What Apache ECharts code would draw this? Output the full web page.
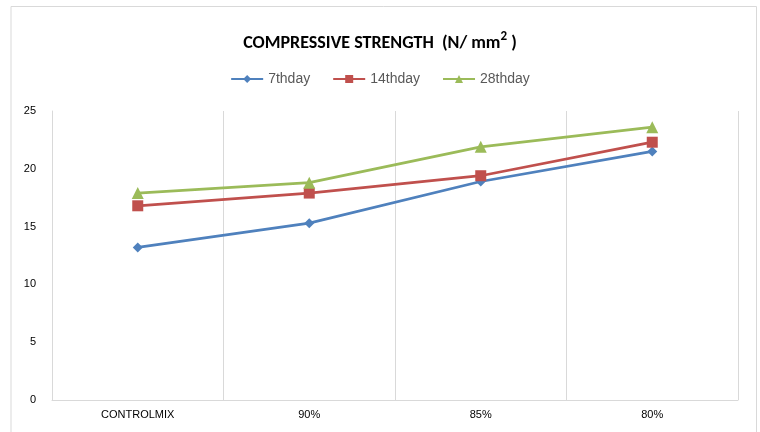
<!DOCTYPE html>
<html><head><meta charset="utf-8">
<script src="https://cdn.jsdelivr.net/npm/echarts@6/dist/echarts.min.js"></script>
<style>html,body{margin:0;padding:0;background:#fff}#c{width:760px;height:432px}</style>
</head><body><div id="c"></div>
<script>
const categories = ['CONTROLMIX', '90%', '85%', '80%'];
const day7 = [13.2, 15.3, 18.9, 21.5];
const day14 = [16.8, 17.9, 19.4, 22.3];
const day28 = [17.9, 18.8, 21.9, 23.6];
const seriesNames = ['7thday', '14thday', '28thday'];
const yTicks = {min: 0, max: 25, interval: 5};

const chart = echarts.init(document.getElementById('c'), null, {renderer: 'canvas'});
const font = 'Liberation Sans, Arial, sans-serif';
chart.setOption({
  animation: false,
  backgroundColor: '#fff',
  title: {
    text: '{t|COMPRESSIVE STRENGTH  (N/ mm}{s|2}{t| )}',
    left: 'center', top: 25,
    textStyle: {
      rich: {
        t: {fontFamily: 'Carlito, Liberation Sans Narrow, Arial', fontWeight: 'bold', fontSize: 18, color: '#000', verticalAlign: 'bottom', lineHeight: 22},
        s: {fontFamily: 'Carlito, Liberation Sans Narrow, Arial', fontWeight: 'bold', fontSize: 13, color: '#000', verticalAlign: 'top', padding: [0, 0, 10, 0], lineHeight: 22}
      }
    }
  },
  legend: {
    top: 67, left: 'center',
    itemWidth: 32, itemHeight: 10, itemGap: 22,
    textStyle: {fontFamily: font, fontSize: 14, color: '#595959'},
    data: seriesNames
  },
  graphic: [{
    type: 'polyline', silent: true,
    shape: {points: [[11, 432], [11, 6.5], [756.5, 6.5], [756.5, 432]]},
    style: {stroke: '#d9d9d9', lineWidth: 1, fill: null}
  }],
  grid: {left: 52, right: 22, top: 111, bottom: 32, containLabel: false},
  xAxis: {
    type: 'category', data: categories, boundaryGap: true,
    axisLine: {show: true, lineStyle: {color: '#d9d9d9', width: 1}},
    axisTick: {show: false},
    axisLabel: {fontFamily: font, fontSize: 11, color: '#000', margin: 9},
    splitLine: {show: true, lineStyle: {color: '#d9d9d9', width: 1}}
  },
  yAxis: {
    type: 'value', min: yTicks.min, max: yTicks.max, interval: yTicks.interval,
    axisLine: {show: true, lineStyle: {color: '#d9d9d9', width: 1}},
    axisTick: {show: false},
    splitLine: {show: false},
    axisLabel: {fontFamily: font, fontSize: 11, color: '#000', margin: 16}
  },
  series: [
    {name: seriesNames[0], type: 'line', data: day7, symbol: 'diamond', symbolSize: 10,
     itemStyle: {color: '#4F81BD'}, lineStyle: {width: 2.75, color: '#4F81BD'}},
    {name: seriesNames[1], type: 'line', data: day14, symbol: 'rect', symbolSize: 11,
     itemStyle: {color: '#C0504D'}, lineStyle: {width: 2.75, color: '#C0504D'}},
    {name: seriesNames[2], type: 'line', data: day28, symbol: 'triangle', symbolSize: 12,
     itemStyle: {color: '#9BBB59'}, lineStyle: {width: 2.75, color: '#9BBB59'}}
  ]
});
</script></body></html>
